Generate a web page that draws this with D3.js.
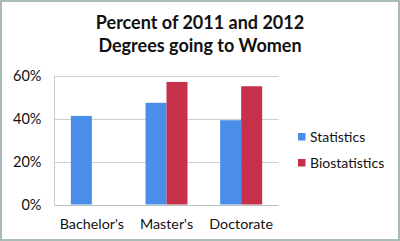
<!DOCTYPE html>
<html>
<head>
<meta charset="utf-8">
<script src="https://cdn.jsdelivr.net/npm/d3@7"></script>
<style>
  body { margin: 0; background: #fff; }
  text { font-family: Lato, "Open Sans", sans-serif; fill: #111; }
</style>
</head>
<body>
<div id="chart"></div>
<script>
// Data
var degrees = ["Bachelor's", "Master's", "Doctorate"],
  seriesNames = ["Statistics", "Biostatistics"],
  statistics = [41.2, 47.3, 39.2],
  biostatistics = [0, 57, 55],
  yTicks = [0, 20, 40, 60],
  colors = ["#4a8eea", "#c6304a"];

// Placement
var width = 400,
  height = 241,
  plotLeft = 54.5,
  plotRight = 278.5,
  plotTop = 75.5,
  plotBottom = 204.5;

var svg = d3.select("#chart")
  .append("svg")
  .attr("width", width)
  .attr("height", height);

// outer frame
svg.append("rect")
  .attr("x", 1)
  .attr("y", 1)
  .attr("width", width - 2)
  .attr("height", height - 2)
  .attr("fill", "#fff")
  .attr("stroke", "#a9bcb8")
  .attr("stroke-width", 2);

// title
var title = svg.append("text")
  .attr("text-anchor", "middle")
  .attr("font-size", 18)
  .attr("font-weight", "bold");
title.append("tspan").attr("x", 200).attr("y", 29).text("Percent of 2011 and 2012");
title.append("tspan").attr("x", 200).attr("y", 52).text("Degrees going to Women");

var x0 = d3.scaleBand()
  .domain(degrees)
  .range([plotLeft, plotRight])
  .paddingInner(0.4375)
  .paddingOuter(0.21875);

var x1 = d3.scaleBand()
  .domain(seriesNames)
  .range([0, x0.bandwidth()]);

var y = d3.scaleLinear()
  .domain([0, 60])
  .range([plotBottom, plotTop]);

// gridlines
svg.append("g").selectAll("line")
  .data(yTicks)
  .enter().append("line")
  .attr("x1", plotLeft)
  .attr("x2", plotRight)
  .attr("y1", function(d) { return Math.round(y(d)) + 0.5; })
  .attr("y2", function(d) { return Math.round(y(d)) + 0.5; })
  .attr("stroke", function(d) { return d === 0 ? "#b8c2c2" : "#c9d0d0"; })
  .attr("stroke-width", 1);

// left axis line
svg.append("line")
  .attr("x1", plotLeft)
  .attr("x2", plotLeft)
  .attr("y1", plotTop)
  .attr("y2", plotBottom + 0.5)
  .attr("stroke", "#c9d0d0");

// y axis labels
var yAxis = d3.axisLeft(y)
  .tickValues(yTicks)
  .tickSize(0)
  .tickPadding(13)
  .tickFormat(function(d) { return d + "%"; });

svg.append("g")
  .attr("transform", "translate(" + plotLeft + ",0)")
  .call(yAxis)
  .call(function(g) { g.select(".domain").remove(); })
  .selectAll("text")
  .attr("font-size", 14.5)
  .attr("font-family", "Lato, 'Open Sans', sans-serif")
  .attr("fill", "#111");

// x axis labels
var xAxis = d3.axisBottom(x0)
  .tickSize(0)
  .tickPadding(14);

svg.append("g")
  .attr("transform", "translate(0," + plotBottom + ")")
  .call(xAxis)
  .call(function(g) { g.select(".domain").remove(); })
  .selectAll("text")
  .attr("font-size", 14.3)
  .attr("font-family", "Lato, 'Open Sans', sans-serif")
  .attr("fill", "#111");

// bars
var rows = degrees.map(function(d, i) {
  return { degree: d, values: [statistics[i], biostatistics[i]] };
});

var groups = svg.append("g").selectAll("g")
  .data(rows)
  .enter().append("g")
  .attr("transform", function(d) { return "translate(" + x0(d.degree) + ",0)"; });

groups.selectAll("rect")
  .data(function(d) {
    return d.values.map(function(v, j) { return { series: seriesNames[j], value: v, j: j }; });
  })
  .enter().append("rect")
  .attr("x", function(d) { return x1(d.series); })
  .attr("width", x1.bandwidth())
  .attr("y", function(d) { return y(d.value); })
  .attr("height", function(d) { return y(0) - y(d.value); })
  .attr("fill", function(d) { return colors[d.j]; });

// legend
var legend = svg.append("g").selectAll("g")
  .data(seriesNames)
  .enter().append("g")
  .attr("transform", function(d, i) { return "translate(298," + (133 + i * 26) + ")"; });

legend.append("rect")
  .attr("width", 7.5)
  .attr("height", 7.5)
  .attr("fill", function(d, i) { return colors[i]; });

legend.append("text")
  .attr("x", 12)
  .attr("y", 4)
  .attr("dy", "0.35em")
  .attr("font-size", 14)
  .text(function(d) { return d; });
</script>
</body>
</html>
